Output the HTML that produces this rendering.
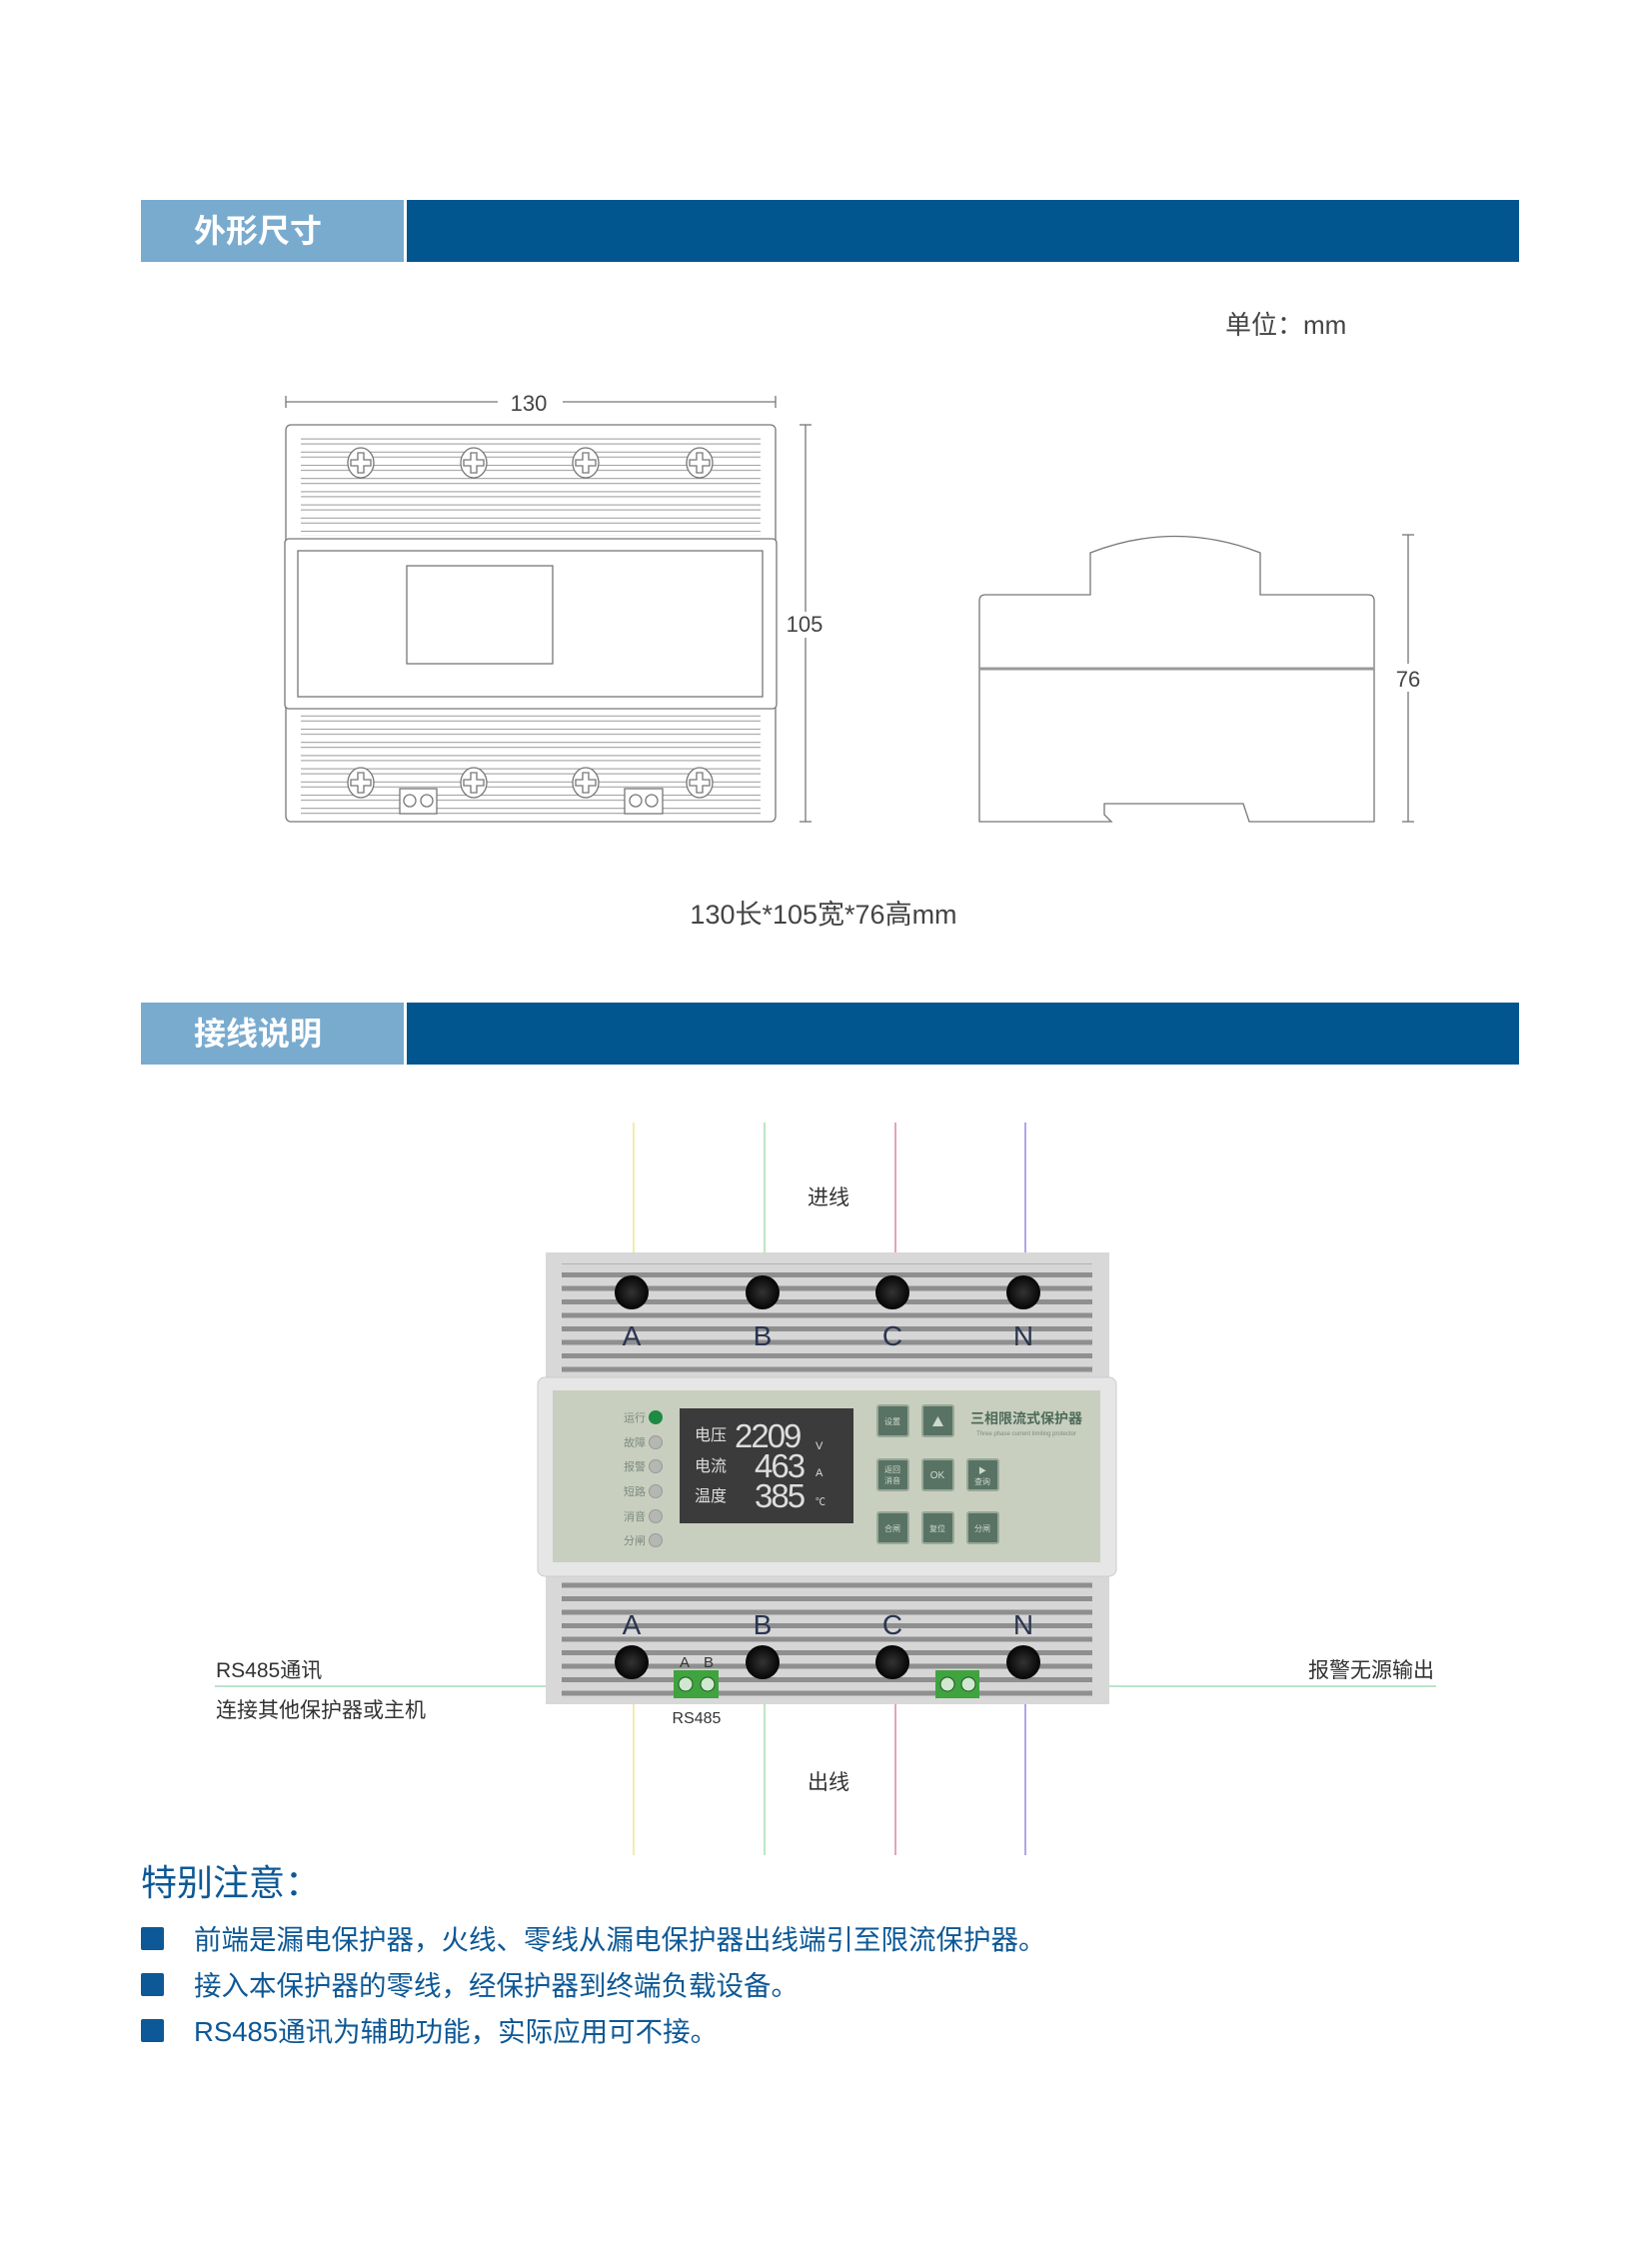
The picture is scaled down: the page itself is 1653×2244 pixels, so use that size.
<!DOCTYPE html>
<html><head><meta charset="utf-8"><style>
body{margin:0;background:#fff}
svg{display:block}
text{font-family:"Liberation Sans","Noto Sans CJK SC",sans-serif}
</style></head><body>
<svg width="1653" height="2244" viewBox="0 0 1653 2244" xmlns="http://www.w3.org/2000/svg">
<defs>
<pattern id="slat" width="10" height="13.5" patternUnits="userSpaceOnUse">
<rect width="10" height="13.5" fill="#d6d6d6"/><rect y="4" width="10" height="5" fill="#8f8f8f"/>
</pattern>
<pattern id="lslat" width="10" height="13.2" patternUnits="userSpaceOnUse">
<rect width="10" height="13.2" fill="#fff"/><line x1="0" y1="3.5" x2="10" y2="3.5" stroke="#999" stroke-width="1"/><line x1="0" y1="8.5" x2="10" y2="8.5" stroke="#999" stroke-width="1"/>
</pattern>
<radialGradient id="hole"><stop offset="0" stop-color="#333"/><stop offset="1" stop-color="#050505"/></radialGradient>
<g id="sc"><ellipse cx="0" cy="0" rx="13" ry="15"/><path d="M-3,-10h6v7h7v6h-7v7h-6v-7h-7v-6h7z"/></g>
</defs>

<!-- header 1 -->
<rect x="141" y="200" width="263" height="62" fill="#79abcf"/>
<rect x="407" y="200" width="1113" height="62" fill="#02568f"/>
<text x="194" y="242" font-size="32" font-weight="bold" fill="#fff">外形尺寸</text>
<text x="1226" y="334" font-size="26" fill="#444">单位：mm</text>

<!-- front view -->
<g stroke="#777" fill="none" stroke-width="1.3">
<line x1="286" y1="402" x2="498" y2="402"/><line x1="563" y1="402" x2="776" y2="402"/>
<line x1="286" y1="396" x2="286" y2="408"/><line x1="776" y1="396" x2="776" y2="408"/>
<line x1="806" y1="425" x2="806" y2="822"/><line x1="800" y1="425" x2="812" y2="425"/><line x1="800" y1="822" x2="812" y2="822"/>
<rect x="286" y="425" width="490" height="397" rx="5"/>
</g>
<rect x="301" y="436" width="460" height="100" fill="url(#lslat)"/>
<rect x="301" y="713" width="460" height="103" fill="url(#lslat)"/>
<g stroke="#777" fill="#fff" stroke-width="1.3">
<rect x="285" y="539" width="492" height="170" rx="4"/>
<rect x="298" y="551" width="465" height="146"/>
<rect x="407" y="566" width="146" height="98"/>
</g>
<g stroke="#777" fill="#fff" stroke-width="1.3">
<use href="#sc" x="361" y="463"/><use href="#sc" x="474" y="463"/><use href="#sc" x="586" y="463"/><use href="#sc" x="700" y="463"/>
<use href="#sc" x="361" y="783"/><use href="#sc" x="474" y="783"/><use href="#sc" x="586" y="783"/><use href="#sc" x="700" y="783"/>
<rect x="400" y="789" width="37" height="25"/><circle cx="410" cy="801" r="6"/><circle cx="427" cy="801" r="6"/>
<rect x="625" y="789" width="38" height="25"/><circle cx="636" cy="801" r="6"/><circle cx="652" cy="801" r="6"/>
</g>
<text x="529" y="411" font-size="22" fill="#444" text-anchor="middle">130</text>
<rect x="794" y="612" width="24" height="26" fill="#fff"/>
<text x="805" y="632" font-size="22" fill="#444" text-anchor="middle">105</text>

<!-- side view -->
<g stroke="#777" fill="#fff" stroke-width="1.3">
<path d="M986,595 H1091 V553 Q1176,520 1261,553 V595 H1369 Q1375,595 1375,601 V822 H1250 L1244,804 H1105 V815 L1112,822 H980 V601 Q980,595 986,595Z"/>
<line x1="980" y1="669" x2="1375" y2="669" stroke-width="3" stroke="#999"/>
<line x1="1409" y1="535" x2="1409" y2="822"/><line x1="1403" y1="535" x2="1415" y2="535"/><line x1="1403" y1="822" x2="1415" y2="822"/>
</g>
<rect x="1398" y="664" width="22" height="28" fill="#fff"/>
<text x="1409" y="687" font-size="22" fill="#444" text-anchor="middle">76</text>
<text x="824" y="924" font-size="27" fill="#444" text-anchor="middle">130长*105宽*76高mm</text>

<!-- header 2 -->
<rect x="141" y="1003" width="263" height="62" fill="#79abcf"/>
<rect x="407" y="1003" width="1113" height="62" fill="#02568f"/>
<text x="194" y="1045" font-size="32" font-weight="bold" fill="#fff">接线说明</text>

<!-- wires -->
<g stroke-width="1.2">
<line x1="634" y1="1123" x2="634" y2="1856" stroke="#e8e07a"/>
<line x1="765" y1="1123" x2="765" y2="1856" stroke="#8fd49a"/>
<line x1="896" y1="1123" x2="896" y2="1856" stroke="#d06a8a"/>
<line x1="1026" y1="1123" x2="1026" y2="1856" stroke="#7a6ad8"/>
<line x1="215" y1="1687" x2="674" y2="1687" stroke="#8fd4aa"/>
<line x1="980" y1="1687" x2="1437" y2="1687" stroke="#8fd4aa"/>
</g>
<text x="829" y="1205" font-size="21" fill="#333" text-anchor="middle">进线</text>
<text x="829" y="1790" font-size="21" fill="#333" text-anchor="middle">出线</text>
<text x="216" y="1678" font-size="21" fill="#333">RS485通讯</text>
<text x="216" y="1718" font-size="21" fill="#333">连接其他保护器或主机</text>
<text x="1435" y="1678" font-size="21" fill="#333" text-anchor="end">报警无源输出</text>

<!-- device -->
<rect x="546" y="1253" width="564" height="126" fill="#d8d8d8"/>
<rect x="562" y="1264" width="531" height="110" fill="url(#slat)"/>
<rect x="546" y="1575" width="564" height="130" fill="#d8d8d8"/>
<rect x="562" y="1580" width="531" height="120" fill="url(#slat)"/>
<rect x="538" y="1378" width="579" height="199" rx="7" fill="#e6e6e6" stroke="#ccc"/>
<rect x="553" y="1391" width="548" height="172" fill="#c9cfbf"/>
<g fill="url(#hole)">
<circle cx="632" cy="1293" r="17"/><circle cx="763" cy="1293" r="17"/><circle cx="893" cy="1293" r="17"/><circle cx="1024" cy="1293" r="17"/>
<circle cx="632" cy="1663" r="17"/><circle cx="763" cy="1663" r="17"/><circle cx="893" cy="1663" r="17"/><circle cx="1024" cy="1663" r="17"/>
</g>
<g font-size="28" fill="#2a3550" text-anchor="middle">
<text x="632" y="1346">A</text><text x="763" y="1346">B</text><text x="893" y="1346">C</text><text x="1024" y="1346">N</text>
<text x="632" y="1635">A</text><text x="763" y="1635">B</text><text x="893" y="1635">C</text><text x="1024" y="1635">N</text>
</g>
<rect x="674" y="1671" width="45" height="28" fill="#3fa33f"/><rect x="936" y="1671" width="44" height="28" fill="#3fa33f"/>
<g fill="#cfe8cf" stroke="#225522"><circle cx="686" cy="1685" r="7"/><circle cx="708" cy="1685" r="7"/><circle cx="948" cy="1685" r="7"/><circle cx="969" cy="1685" r="7"/></g>
<text x="685" y="1668" font-size="15" fill="#333" text-anchor="middle">A</text>
<text x="709" y="1668" font-size="15" fill="#333" text-anchor="middle">B</text>
<text x="697" y="1724" font-size="16" fill="#333" text-anchor="middle">RS485</text>

<!-- panel leds -->
<g font-size="11" fill="#7d8a80" text-anchor="end">
<text x="646" y="1422">运行</text><text x="646" y="1447">故障</text><text x="646" y="1471">报警</text><text x="646" y="1496">短路</text><text x="646" y="1521">消音</text><text x="646" y="1545">分闸</text>
</g>
<circle cx="656" cy="1418" r="7" fill="#1e8a44"/>
<g fill="#b5b8b2" stroke="#999"><circle cx="656" cy="1443" r="6.5"/><circle cx="656" cy="1467" r="6.5"/><circle cx="656" cy="1492" r="6.5"/><circle cx="656" cy="1517" r="6.5"/><circle cx="656" cy="1541" r="6.5"/></g>
<rect x="680" y="1409" width="174" height="115" fill="#3b3b3b"/>
<g fill="#ddd">
<text x="695" y="1441" font-size="16">电压</text><text x="695" y="1472" font-size="16">电流</text><text x="695" y="1502" font-size="16">温度</text>
<text x="735" y="1448" font-size="33" font-family="Liberation Mono" letter-spacing="-2">2209</text>
<text x="755" y="1478" font-size="33" font-family="Liberation Mono" letter-spacing="-2">463</text>
<text x="755" y="1508" font-size="33" font-family="Liberation Mono" letter-spacing="-2">385</text>
<text x="816" y="1450" font-size="11">V</text><text x="816" y="1477" font-size="11">A</text><text x="816" y="1506" font-size="10">℃</text>
</g>
<g fill="#587364" stroke="#98a898" stroke-width="2">
<rect x="878" y="1406" width="31" height="31" rx="2"/><rect x="923" y="1406" width="31" height="31" rx="2"/>
<rect x="878" y="1460" width="31" height="31" rx="2"/><rect x="923" y="1460" width="31" height="31" rx="2"/><rect x="968" y="1460" width="31" height="31" rx="2"/>
<rect x="878" y="1513" width="31" height="31" rx="2"/><rect x="923" y="1513" width="31" height="31" rx="2"/><rect x="968" y="1513" width="31" height="31" rx="2"/>
</g>
<g fill="#cfd8cf" font-size="8" text-anchor="middle">
<text x="893" y="1425">设置</text><path d="M933,1427 L944,1427 L938.5,1417Z"/>
<text x="893" y="1473">返回</text><text x="893" y="1484">消音</text><text x="938" y="1479" font-size="10">OK</text>
<text x="983" y="1474">▶</text><text x="983" y="1485">查询</text>
<text x="893" y="1532">合闸</text><text x="938" y="1532">复位</text><text x="983" y="1532">分闸</text>
</g>
<text x="1027" y="1424" font-size="14" font-weight="bold" fill="#4e6b5a" text-anchor="middle">三相限流式保护器</text>
<text x="1027" y="1436" font-size="6" fill="#7a8a80" text-anchor="middle">Three phase current limiting protector</text>

<!-- notes -->
<text x="141" y="1896" font-size="36" fill="#0d5896">特别注意：</text>
<g fill="#0d5896">
<rect x="141" y="1928" width="23" height="23" rx="2"/><rect x="141" y="1974" width="23" height="23" rx="2"/><rect x="141" y="2020" width="23" height="23" rx="2"/>
<text x="194" y="1950" font-size="27.5">前端是漏电保护器，火线、零线从漏电保护器出线端引至限流保护器。</text>
<text x="194" y="1996" font-size="27.5">接入本保护器的零线，经保护器到终端负载设备。</text>
<text x="194" y="2042" font-size="27.5">RS485通讯为辅助功能，实际应用可不接。</text>
</g>
</svg>
</body></html>
